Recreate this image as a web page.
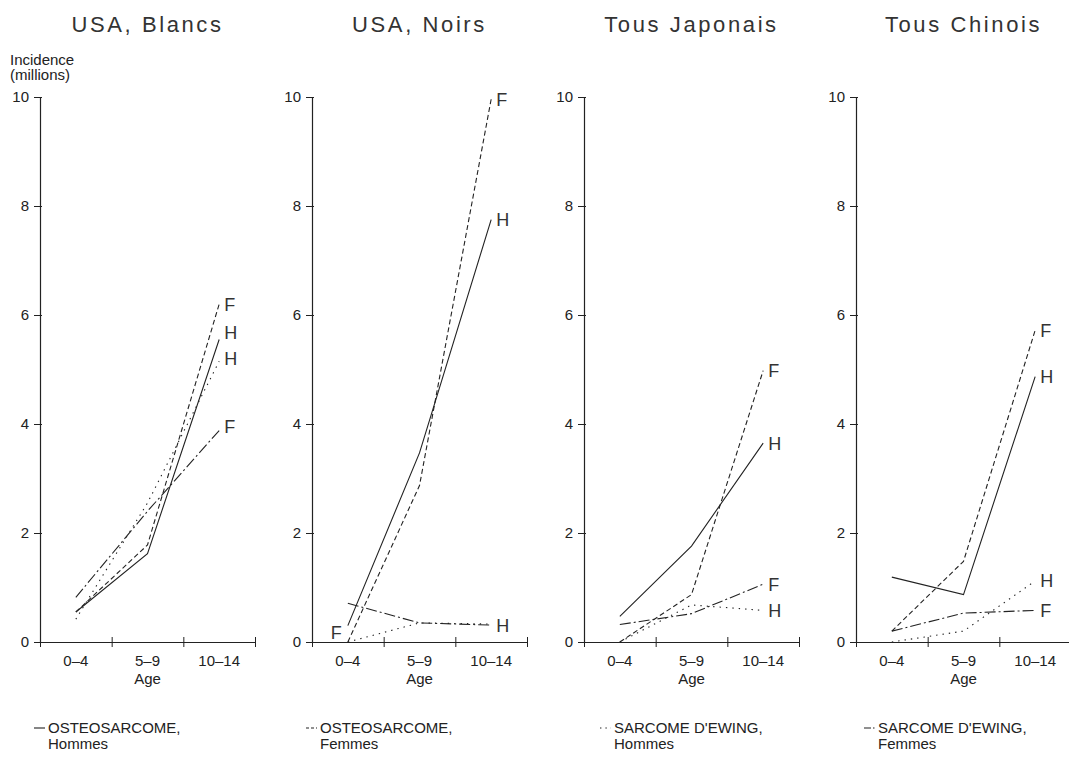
<!DOCTYPE html>
<html>
<head>
<meta charset="utf-8">
<script src="https://cdn.jsdelivr.net/npm/d3@7"></script>
<style>
  body { margin: 0; background: #fff; }
  svg { font-family: "Liberation Sans", Arial, sans-serif; fill: #222; }
</style>
</head>
<body>
<div id="chart"></div>
<script>
// age groups on the x axis
const ageGroups = ["0\u20134", "5\u20139", "10\u201314"];
const panelTitles = ["USA, Blancs", "USA, Noirs", "Tous Japonais", "Tous Chinois"];
const yTicks = [0, 2, 4, 6, 8, 10];

// one array per series, one row per panel (Blancs, Noirs, Japonais, Chinois)
const osteoHommes = [[0.55, 1.62, 5.55], [0.30, 3.47, 7.75], [0.47, 1.76, 3.65], [1.19, 0.87, 4.87]];
const osteoFemmes = [[0.55, 1.78, 6.20], [0.00, 2.87, 9.96], [0.00, 0.87, 4.98], [0.20, 1.48, 5.72]];
const ewingHommes = [[0.42, 2.55, 5.15], [0.00, 0.35, 0.33], [0.00, 0.68, 0.58], [0.00, 0.20, 1.12]];
const ewingFemmes = [[0.82, 2.40, 3.88], [0.71, 0.35, 0.31], [0.32, 0.52, 1.06], [0.20, 0.53, 0.58]];

// legend text
const legendNames = [["OSTEOSARCOME,", "Hommes"], ["OSTEOSARCOME,", "Femmes"],
                     ["SARCOME D'EWING,", "Hommes"], ["SARCOME D'EWING,", "Femmes"]];

// H / F tags at the right end of the lines, and the odd one at the left in panel 2
const endLabels = [
  [["F", 6.2], ["H", 5.68], ["H", 5.2], ["F", 3.95]],
  [["F", 9.96], ["H", 7.75], ["H", 0.31]],
  [["F", 4.98], ["H", 3.65], ["F", 1.06], ["H", 0.58]],
  [["F", 5.72], ["H", 4.87], ["H", 1.12], ["F", 0.58]]
];
const startLabels = [[], [["F", 0.18]], [], []];

const d3v = d3;
const width = 1069, height = 761;
const panelW = 215, panelStep = 272, left0 = 40;
const yTop = 97, yBottom = 642;
// legend entries are not exactly under the axes
const legendShift = [8, 8, 30, 22];

const series = [osteoHommes, osteoFemmes, ewingHommes, ewingFemmes];
const dashes = [null, "5,3", "1.4,5", "11,3,2,3"];
const legendDashes = [null, "3,2", "1.4,4", "7,2,1.5,2"];

const svg = d3v.select("#chart").append("svg")
  .attr("width", width)
  .attr("height", height);

const x = d3v.scaleBand().domain(ageGroups).range([0, panelW]);
const xEdge = d3v.scaleLinear().domain([0, 3]).range([0, panelW]);
const y = d3v.scaleLinear().domain([0, 10]).range([yBottom, yTop]);
const cx = (i) => x(ageGroups[i]) + x.bandwidth() / 2;

const line = d3v.line()
  .x((d, i) => cx(i))
  .y(d => y(d));

panelTitles.forEach((title, p) => {
  const g = svg.append("g")
    .attr("transform", "translate(" + (left0 + p * panelStep) + ",0)");

  // title
  g.append("text")
    .attr("x", panelW / 2)
    .attr("y", 32)
    .attr("text-anchor", "middle")
    .style("font-size", "22px")
    .style("letter-spacing", "2.6px")
    .attr("fill", "#333")
    .text(title);

  // y axis
  const yAxis = g.append("g").call(
    d3v.axisLeft(y).tickValues(yTicks).tickSizeOuter(0).tickSize(6)
  );
  yAxis.select(".domain").attr("stroke", "#222").attr("stroke-width", 1.2);
  yAxis.selectAll(".tick line").attr("x1", -6).attr("x2", 2).attr("stroke", "#222");
  yAxis.selectAll(".tick text")
    .attr("x", -11)
    .style("font-size", "15px")
    .style("font-family", "Liberation Sans, Arial, sans-serif")
    .attr("fill", "#222");

  // x axis: band edges carry the ticks, labels sit in the bands
  const xAxis = g.append("g")
    .attr("transform", "translate(0," + yBottom + ")")
    .call(d3v.axisBottom(xEdge).ticks(3).tickFormat("").tickSizeOuter(0));
  xAxis.select(".domain").attr("stroke", "#222").attr("stroke-width", 1.2);
  xAxis.selectAll(".tick line").attr("y1", -5).attr("y2", 5).attr("stroke", "#222");

  const xLab = g.append("g")
    .attr("transform", "translate(0," + yBottom + ")")
    .call(d3v.axisBottom(x).tickSize(0));
  xLab.select(".domain").remove();
  xLab.selectAll(".tick text")
    .attr("y", 13)
    .style("font-size", "15px")
    .style("font-family", "Liberation Sans, Arial, sans-serif")
    .attr("fill", "#222");

  g.append("text")
    .attr("x", panelW / 2)
    .attr("y", 684)
    .attr("text-anchor", "middle")
    .style("font-size", "15px")
    .text("Age");

  // the four series
  series.forEach((s, k) => {
    g.append("path")
      .datum(s[p])
      .attr("d", line)
      .attr("fill", "none")
      .attr("stroke", "#222")
      .attr("stroke-width", 1.1)
      .attr("stroke-dasharray", dashes[k]);
  });

  // H / F tags
  g.selectAll(".endlab")
    .data(endLabels[p])
    .enter()
    .append("text")
    .attr("class", "endlab")
    .attr("x", cx(2) + 5)
    .attr("y", d => y(d[1]))
    .attr("dy", "0.36em")
    .style("font-size", "18px")
    .attr("fill", "#333")
    .text(d => d[0]);

  g.selectAll(".startlab")
    .data(startLabels[p])
    .enter()
    .append("text")
    .attr("class", "startlab")
    .attr("x", cx(0) - 6)
    .attr("y", d => y(d[1]))
    .attr("dy", "0.36em")
    .attr("text-anchor", "end")
    .style("font-size", "18px")
    .attr("fill", "#333")
    .text(d => d[0]);

  // legend entry under each panel
  const lg = g.append("g").attr("transform", "translate(" + legendShift[p] + ",733)");
  lg.append("line")
    .attr("x1", -14).attr("x2", -3)
    .attr("y1", -5).attr("y2", -5)
    .attr("stroke", "#222")
    .attr("stroke-width", 1.1)
    .attr("stroke-dasharray", legendDashes[p]);
  lg.append("text")
    .attr("x", 0).attr("y", 0)
    .style("font-size", "15px")
    .text(legendNames[p][0]);
  lg.append("text")
    .attr("x", 0).attr("y", 16)
    .style("font-size", "15px")
    .text(legendNames[p][1]);
});

// y axis caption over the first panel
svg.append("text")
  .attr("x", 10).attr("y", 65)
  .style("font-size", "15px")
  .text("Incidence");
svg.append("text")
  .attr("x", 10).attr("y", 80)
  .style("font-size", "15px")
  .text("(millions)");
</script>
</body>
</html>
